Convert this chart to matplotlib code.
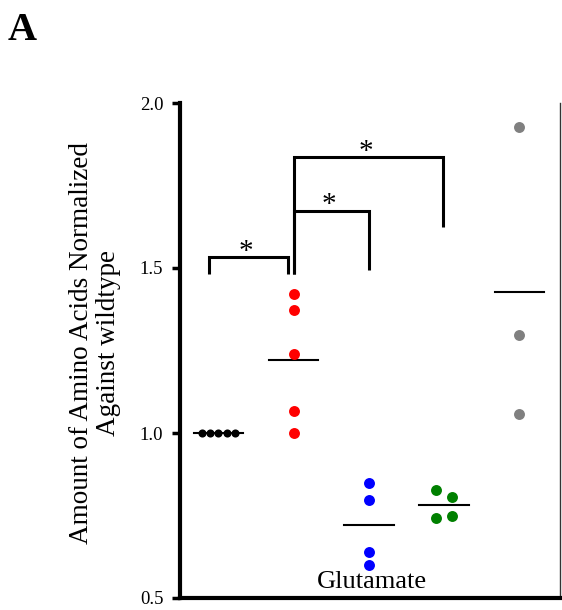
import numpy as np
import matplotlib
matplotlib.use("Agg")
import matplotlib.pyplot as plt

plt.rcParams["font.family"] = ["Liberation Serif", "DejaVu Serif"]

# normalized glutamate levels per strain
wildtype = [1.0, 1.0, 1.0, 1.0, 1.0]
strain_red = [1.421, 1.374, 1.240, 1.066, 1.000]
strain_blue = [0.849, 0.796, 0.639, 0.599]
strain_green = [0.827, 0.805, 0.743, 0.749]
strain_gray = [1.926, 1.297, 1.058]

groups = [wildtype, strain_red, strain_blue, strain_green, strain_gray]
colors = ["black", "#ff0000", "#0000ff", "#008000", "#808080"]
sizes = [34, 62, 62, 62, 62]
# horizontal spread of the dots inside each column
offsets = [
    [-0.22, -0.11, 0.0, 0.11, 0.22],
    [0, 0, 0, 0, 0],
    [0, 0, 0, 0],
    [-0.11, 0.11, -0.11, 0.11],
    [0, 0, 0],
]

# significance brackets: (x_left, x_right, y_top, y_left_end, y_right_end)
brackets = [
    (0.88, 1.92, 1.532, 1.481, 1.481),
    (2.0, 3.0, 1.674, 1.481, 1.494),
    (2.0, 3.98, 1.837, 1.481, 1.625),
]

fig = plt.figure(figsize=(5.62, 6.10), dpi=100)
ax = fig.add_axes([180 / 562, 1 - 598 / 610, 380 / 562, 495 / 610])

for i, (vals, col, s, off) in enumerate(zip(groups, colors, sizes, offsets)):
    x = i + 1
    ax.scatter(x + np.array(off), vals, s=s, color=col, zorder=3, linewidths=0)
    m = np.mean(vals)
    ax.plot([x - 0.33, x + 0.33], [m, m], color="black", lw=1.5, zorder=2)

for x1, x2, yt, y1, y2 in brackets:
    ax.plot([x1, x1, x2, x2], [y1, yt, yt, y2], color="black", lw=2.2,
            solid_joinstyle="miter", solid_capstyle="butt")
    ax.text((x1 + x2) / 2 - 0.03, yt + 0.016, "*", ha="center", va="center", fontsize=21)

ax.set_xlim(0.49, 5.54)
ax.set_ylim(0.5, 2.0)
ax.set_yticks([0.5, 1.0, 1.5, 2.0])
ax.set_yticklabels(["0.5", "1.0", "1.5", "2.0"])
ax.set_xticks([])
ax.tick_params(axis="y", direction="out", length=6, width=2.5, pad=6, labelsize=13.5)

ax.spines["top"].set_visible(False)
ax.spines["left"].set_linewidth(3)
ax.spines["bottom"].set_linewidth(3)
ax.spines["right"].set_linewidth(1.0)
ax.spines["right"].set_color("#333333")

fig.text(95 / 562, 1 - 343 / 610, "Amount of Amino Acids Normalized\nAgainst wildtype",
         rotation=90, ha="center", va="center", multialignment="center",
         fontsize=19.5, linespacing=1.1)
ax.text(0.504, 0.021, "Glutamate", transform=ax.transAxes, ha="center",
        va="baseline", fontsize=19)

fig.text(8 / 562, 1 - 40 / 610, "A", fontsize=29, fontweight="bold", va="baseline")

fig.savefig("out.png", dpi=100)
